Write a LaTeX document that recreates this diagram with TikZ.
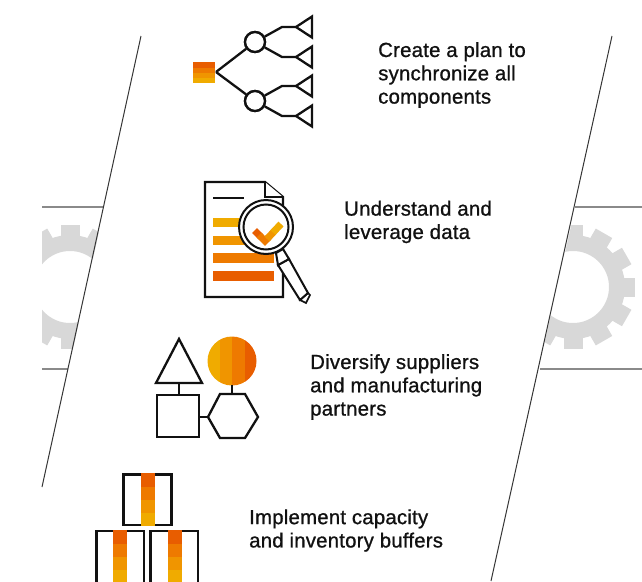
\documentclass[tikz,border=0pt]{standalone}
\usepackage{fontspec}
\setmainfont{Liberation Sans}[FakeBold=0.9,LetterSpace=1]
\definecolor{ora}{HTML}{E85D00}
\definecolor{orb}{HTML}{EE7A00}
\definecolor{orc}{HTML}{F09500}
\definecolor{ord}{HTML}{F0AB00}
\definecolor{gearg}{HTML}{D8D8D8}
\definecolor{ruleg}{HTML}{8A8A8A}
\definecolor{ink}{HTML}{111111}
\tikzset{
 icon/.style={draw=ink,line width=2.3pt,line join=miter},
 slant/.style={draw=ink!85,line width=1pt},
 hrule/.style={draw=ruleg,line width=1.2pt},
 caption/.style={anchor=west,align=left,font=\fontsize{20.4}{23.3}\selectfont,text=ink,inner sep=0pt},
 ringnode/.style={circle,draw=ink,line width=2.3pt,minimum size=20pt,inner sep=0pt},
 gearfill/.style={fill=gearg,even odd rule}
}
\newcommand{\gearshape}[2]{%
 \fill[gearfill] (#1,#2) circle (52) (#1,#2) circle (36);
 \foreach \a in {0,30,...,330}{
  \fill[gearg,rotate around={\a:(#1,#2)}] (#1+50,#2-9.5) rectangle (#1+62,#2+9.5);
 }}
\begin{document}
\begin{tikzpicture}[x=1pt,y=-1pt]
\useasboundingbox (0,0) rectangle (642,581);
% gears
\begin{scope}
 \clip (42,200) -- (106,200) -- (66,380) -- (42,380) -- cycle;
 \gearshape{70}{287}
\end{scope}
\begin{scope}
 \clip (642,200) -- (577,200) -- (536,380) -- (642,380) -- cycle;
 \gearshape{573}{287}
\end{scope}
% rules
\coordinate (la) at (42,207); \coordinate (lb) at (103.5,207);
\coordinate (lc) at (42,369); \coordinate (ld) at (67.5,369);
\coordinate (ra) at (575,207); \coordinate (rb) at (642,207);
\coordinate (rc) at (540,369); \coordinate (rd) at (642,369);
\draw[hrule] (la)--(lb); \draw[hrule] (lc)--(ld);
\draw[hrule] (ra)--(rb); \draw[hrule] (rc)--(rd);
\coordinate (s1) at (141,36); \coordinate (s2) at (42,487);
\coordinate (s3) at (612,36); \coordinate (s4) at (491,581);
\draw[slant] (s1)--(s2); \draw[slant] (s3)--(s4);
% icon 1
\fill[ora] (193,62) rectangle (215,67.5);
\fill[orb] (193,67.5) rectangle (215,73);
\fill[orc] (193,73) rectangle (215,78);
\fill[ord] (193,78) rectangle (215,83);
\coordinate (root) at (216,72);
\node[ringnode] (c1) at (255,42) {};
\node[ringnode] (c2) at (255,101) {};
\draw[icon] (root)--(c1); \draw[icon] (root)--(c2);
\foreach \n/\c/\y in {a/c1/27,b/c1/57,c/c2/86,d/c2/116}{
 \coordinate (k\n) at (282,\y);
 \coordinate (t\n) at (296,\y);
 \draw[icon] (\c)--(k\n)--(t\n);
 \draw[icon] (t\n)--(312,\y-10.5)--(312,\y+10.5)--cycle;
}
\fill[white] (255,42) circle (9); \fill[white] (255,101) circle (9);
\node[ringnode] at (255,42) {};
\node[ringnode] at (255,101) {};
\node[caption] (t1) at (378,75) {Create a plan to\\synchronize all\\components};
% icon 2
\draw[icon,fill=white] (205,182)--(265,182)--(283,197)--(283,297)--(205,297)--cycle;
\draw[icon,fill=white] (265,182)--(265,197)--(283,197);
\draw[ink,line width=1.8pt] (213,198)--(244,198);
\fill[ord] (213,218) rectangle (262,227);
\fill[orc] (213,236) rectangle (262,245);
\fill[orb] (213,253) rectangle (274,263);
\fill[ora] (213,271) rectangle (274,281);
\draw[ink,line width=1.6pt,fill=white] (300,300)--(306,303)--(310,295)--(308,293)--cycle;
\draw[ink,line width=2pt,fill=white] (278,265)--(289,259)--(308,293)--(300,300)--cycle;
\draw[ink,line width=2pt,fill=white] (276,253)--(283,249)--(289,259)--(278,265)--cycle;
\node[circle,draw=ink,fill=white,line width=2pt,minimum size=54pt,inner sep=0pt] (lens) at (266,227) {};
\node[circle,draw=ink,line width=2pt,minimum size=45pt,inner sep=0pt] at (266,227) {};
\draw[ora,line width=7pt] (254.5,230.5)--(261,237);
\draw[orb,line width=7pt] (259,235)--(265,241)--(268.5,237.5);
\draw[orc,line width=7pt] (267,239)--(274,231.5);
\draw[ord,line width=7pt] (273,232.5)--(281,224);
\node[caption] (t2) at (344,222) {Understand and\\leverage data};
% icon 3
\begin{scope}
\clip (232,361) circle (24.5);
\fill[ord] (207,336) rectangle (220,386);
\fill[orc] (220,336) rectangle (232,386);
\fill[orb] (232,336) rectangle (245,386);
\fill[ora] (245,336) rectangle (258,386);
\end{scope}
\coordinate (tri) at (179,383); \coordinate (sq) at (179,395);
\coordinate (sqr) at (199,417); \coordinate (hexl) at (208,417);
\coordinate (cb) at (232,385); \coordinate (hext) at (232,394);
\draw[icon] (179,339)--(156,383)--(202,383)--cycle;
\draw[icon] (157,395) rectangle (199,437);
\draw[icon] (208,417)--(220,394)--(245,394)--(258,417)--(245,438)--(220,438)--cycle;
\draw[icon] (tri)--(sq); \draw[icon] (sqr)--(hexl); \draw[icon] (cb)--(hext);
\node[caption] (t3) at (310,387) {Diversify suppliers\\and manufacturing\\partners};
% icon 4
\draw[icon] (123.5,474.5) rectangle (171.5,525);
\draw[icon] (96.5,531) rectangle (144,590);
\draw[icon] (150.5,531) rectangle (198,590);
\foreach \x/\yy in {141/473,113/530,168/530}{
 \fill[ora] (\x,\yy) rectangle (\x+13.5,\yy+13.5);
 \fill[orb] (\x,\yy+13.5) rectangle (\x+13.5,\yy+27);
 \fill[orc] (\x,\yy+27) rectangle (\x+13.5,\yy+40);
 \fill[ord] (\x,\yy+40) rectangle (\x+13.5,\yy+53);
}
\node[caption] (t4) at (249,530.5) {Implement capacity\\and inventory buffers};
\end{tikzpicture}
\end{document}
